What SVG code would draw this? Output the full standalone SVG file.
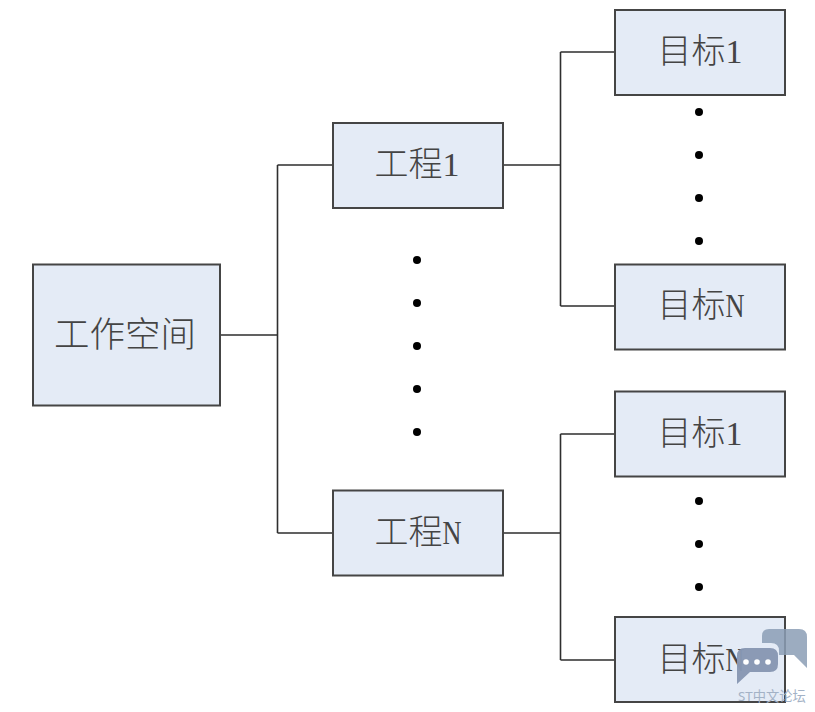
<svg xmlns="http://www.w3.org/2000/svg" width="815" height="712" viewBox="0 0 815 712">
<style>
.box{fill:#e4ebf6;stroke:#454545;stroke-width:2}
.lbl{font-family:"Liberation Serif","Noto Sans CJK SC",serif;font-size:34px;font-weight:300;fill:#444;text-anchor:middle}
.big{font-size:35.5px}
.wire{fill:none;stroke:#2e2e2e;stroke-width:1.6}
.dot{fill:#000}
</style>
<rect width="815" height="712" fill="#fff"/>
<g id="connectors">
<path class="wire" d="M220 335H277.500M277.500 165V533M277.500 165H333M277.500 533H333"/>
<path class="wire" d="M503 165H560.500M560.500 52V306M560.500 52H615M560.500 306H615"/>
<path class="wire" d="M503 533H560.500M560.500 434V660M560.500 434H615M560.500 660H615"/>
</g>
<g id="workspace"><rect class="box" x="33" y="264.500" width="187" height="141"/><text class="lbl big" x="125" y="347">工作空间</text></g>
<g id="project-1"><rect class="box" x="333" y="123" width="170" height="85"/><text class="lbl" x="417" y="176">工程1</text></g>
<g id="project-n"><rect class="box" x="333" y="490.500" width="170" height="85"/><text class="lbl" x="418" y="544">工程<tspan textLength="19" lengthAdjust="spacingAndGlyphs">N</tspan></text></g>
<g id="target-1a"><rect class="box" x="615" y="10" width="170" height="85"/><text class="lbl" x="700" y="63">目标1</text></g>
<g id="target-na"><rect class="box" x="615" y="264.500" width="170" height="85"/><text class="lbl" x="701" y="317">目标<tspan textLength="19" lengthAdjust="spacingAndGlyphs">N</tspan></text></g>
<g id="target-1b"><rect class="box" x="615" y="391.500" width="170" height="85"/><text class="lbl" x="700" y="445">目标1</text></g>
<g id="target-nb"><rect class="box" x="615" y="617" width="170" height="85"/><text class="lbl" x="701" y="671">目标<tspan textLength="19" lengthAdjust="spacingAndGlyphs">N</tspan></text></g>
<g id="dots">
<circle class="dot" cx="417" cy="260" r="4"/><circle class="dot" cx="417" cy="303" r="4"/><circle class="dot" cx="417" cy="346" r="4"/><circle class="dot" cx="417" cy="389" r="4"/><circle class="dot" cx="417" cy="432" r="4"/>
<circle class="dot" cx="699" cy="112" r="4"/><circle class="dot" cx="699" cy="155" r="4"/><circle class="dot" cx="699" cy="198" r="4"/><circle class="dot" cx="699" cy="241" r="4"/>
<circle class="dot" cx="699" cy="501" r="4"/><circle class="dot" cx="699" cy="544" r="4"/><circle class="dot" cx="699" cy="587" r="4"/>
</g>
<g id="watermark">
<path d="M769 629H799Q807 629 807 637V668L794 655H779V651Q779 643 771 643H762V636Q762 629 769 629Z" fill="#8b9db5" fill-opacity=".85"/>
<path d="M745 648H770Q778 648 778 656V664Q778 672 770 672H750L737 684V656Q737 648 745 648Z" fill="#8797b3" fill-opacity=".97"/>
<circle cx="746" cy="662" r="2.800" fill="#fff"/><circle cx="757" cy="662" r="2.800" fill="#fff"/><circle cx="768" cy="662" r="2.800" fill="#fff"/>
<text x="738" y="701" font-family="'Noto Sans','Noto Sans CJK SC',sans-serif" font-size="13.300" fill="#a3b2c6">ST中文论坛</text>
</g>
</svg>
